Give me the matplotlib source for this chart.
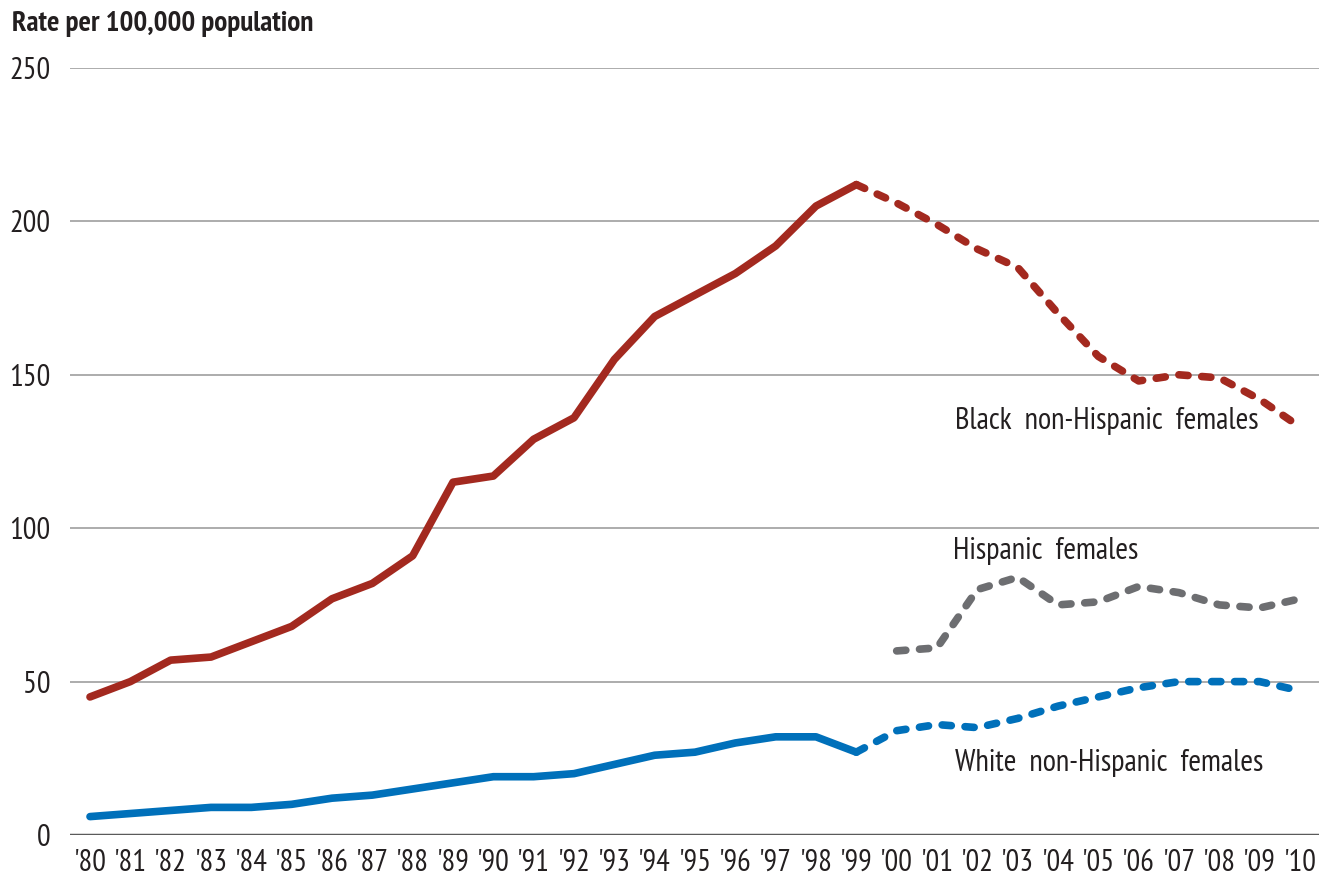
import matplotlib
matplotlib.use('Agg')
import matplotlib.pyplot as plt

# data
years = [1980, 1981, 1982, 1983, 1984, 1985, 1986, 1987, 1988, 1989, 1990,
         1991, 1992, 1993, 1994, 1995, 1996, 1997, 1998, 1999, 2000,
         2001, 2002, 2003, 2004, 2005, 2006, 2007, 2008, 2009, 2010]
year_labels = ["'80", "'81", "'82", "'83", "'84", "'85", "'86", "'87", "'88", "'89", "'90",
               "'91", "'92", "'93", "'94", "'95", "'96", "'97", "'98", "'99", "'00",
               "'01", "'02", "'03", "'04", "'05", "'06", "'07", "'08", "'09", "'10"]

black = [45, 50, 57, 58, 63, 68, 77, 82, 91, 115, 117,
         129, 136, 155, 169, 176, 183, 192, 205, 212, 206,
         199, 191, 185, 170, 156, 148, 150, 149, 142, 133]
white = [6, 7, 8, 9, 9, 10, 12, 13, 15, 17, 19,
         19, 20, 23, 26, 27, 30, 32, 32, 27, 34,
         36, 35, 38, 42, 45, 48, 50, 50, 50, 47]
hisp_years = [2000, 2001, 2002, 2003, 2004, 2005, 2006, 2007, 2008, 2009, 2010]
hispanic = [60, 61, 80, 84, 75, 76, 81, 79, 75, 74, 77]

split = years.index(1999)  # solid up to '99, dashed after

RED = '#A3291F'
BLUE = '#0070BA'
GREY = '#6D6E71'
INK = '#231F20'
plt.rcParams['font.family'] = ['PT Sans Narrow', 'Roboto Condensed', 'DejaVu Sans']

fig = plt.figure(figsize=(13.19, 8.86), dpi=100)
ax = fig.add_axes([70 / 1319, 51 / 886, 1 - 70 / 1319, (835 - 68) / 886])

lw = 5.5
dash = dict(linestyle=(0, (1.2, 1.8)), dash_capstyle='round', solid_capstyle='round')

ax.plot(years[:split + 1], black[:split + 1], color=RED, lw=lw, solid_capstyle='round', clip_on=False, zorder=3)
ax.plot(years[split:], black[split:], color=RED, lw=lw, clip_on=False, zorder=3, **dash)
ax.plot(years[:split + 1], white[:split + 1], color=BLUE, lw=lw, solid_capstyle='round', clip_on=False, zorder=3)
ax.plot(years[split:], white[split:], color=BLUE, lw=lw, clip_on=False, zorder=3, **dash)
ax.plot(hisp_years, hispanic, color=GREY, lw=lw, clip_on=False, zorder=3, **dash)

px_year = 40.33
ax.set_xlim(1980 - 20 / px_year, 2010 + 19 / px_year)
ax.set_ylim(0, 250)

for v in [50, 100, 150, 200, 250]:
    ax.axhline(v, color='#A6A6A6', lw=1.3, zorder=1)
ax.axhline(0, color='#5A5A5A', lw=2.5, zorder=2)

for s in ax.spines.values():
    s.set_visible(False)

ax.set_yticks([0, 50, 100, 150, 200, 250])
ax.set_yticklabels(['0', '50', '100', '150', '200', '250'])
ax.set_xticks(years)
ax.set_xticklabels(year_labels)
ax.tick_params(axis='both', length=0, labelsize=22, labelcolor=INK)
ax.tick_params(axis='y', pad=14)
ax.tick_params(axis='x', pad=10)

fig.text(12 / 1319, 1 - 24 / 886, 'Rate per 100,000 population', fontsize=21,
         fontweight='bold', color=INK, va='center', ha='left')

ax.text(2001.45, 135, 'Black  non-Hispanic  females', fontsize=22, color=INK, va='center', ha='left')
ax.text(2001.40, 92.6, 'Hispanic  females', fontsize=22, color=INK, va='center', ha='left')
ax.text(2001.45, 23.5, 'White  non-Hispanic  females', fontsize=22, color=INK, va='center', ha='left')

fig.savefig('out.png', dpi=100)
